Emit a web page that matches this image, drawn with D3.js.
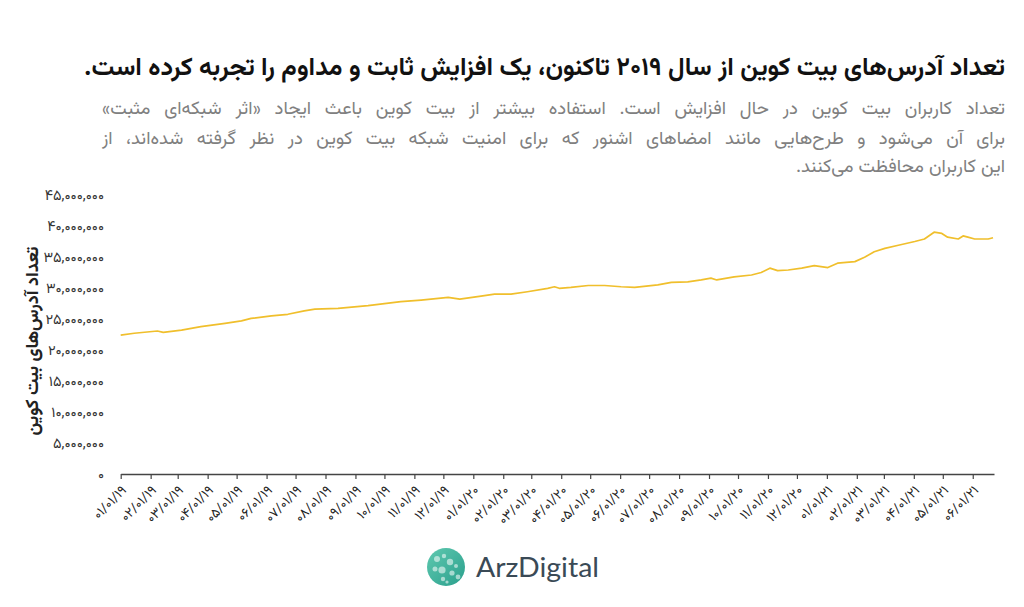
<!DOCTYPE html>
<html lang="fa">
<head>
<meta charset="UTF-8">
<title>Bitcoin addresses</title>
<script src="https://d3js.org/d3.v7.min.js"></script>
<style>
    body { margin: 0; background: #fff; }
    #wrap { position: relative; width: 1024px; height: 607px; overflow: hidden; }
    .fa { font-family: "Vazirmatn", "Noto Sans Arabic", "DejaVu Sans", sans-serif; }
    .title {
        position: absolute; right: 19px; top: 50px;
        white-space: nowrap; direction: rtl;
        font-weight: bold; color: #111; font-size: 24px;
    }
    .sub {
        position: absolute; right: 19px; width: 903px;
        white-space: nowrap; direction: rtl;
        color: #808080; font-size: 18px;
    }
    .just { text-align: justify; text-align-last: justify; }
    svg { position: absolute; left: 0; top: 0; }
</style>
</head>
<body>
<div id="wrap">
    <svg width="1024" height="607"></svg>
</div>
<script>
    const dates = [
        "2019-01-01", "2019-01-15", "2019-02-08", "2019-02-14", "2019-03-05", "2019-03-25",
        "2019-04-19", "2019-05-06", "2019-05-16", "2019-06-06", "2019-06-23", "2019-07-10",
        "2019-07-21", "2019-08-14", "2019-09-14", "2019-10-18", "2019-11-08", "2019-12-06",
        "2019-12-18", "2020-01-09", "2020-01-23", "2020-02-09", "2020-02-26", "2020-03-18",
        "2020-03-25", "2020-03-30", "2020-04-11", "2020-04-29", "2020-05-16", "2020-06-02",
        "2020-06-16", "2020-07-10", "2020-07-24", "2020-08-10", "2020-08-24", "2020-09-03",
        "2020-09-09", "2020-09-27", "2020-10-15", "2020-10-25", "2020-11-03", "2020-11-11",
        "2020-11-22", "2020-12-06", "2020-12-19", "2021-01-02", "2021-01-12", "2021-01-30",
        "2021-02-09", "2021-02-19", "2021-03-02", "2021-03-16", "2021-04-02", "2021-04-12",
        "2021-04-22", "2021-04-30", "2021-05-06", "2021-05-17", "2021-05-22", "2021-05-27",
        "2021-06-03", "2021-06-17", "2021-06-22"
    ];
    // millions of addresses
    const addresses = [
        22.4, 22.7, 23.06, 22.85, 23.2, 23.76,
        24.3, 24.7, 25.1, 25.5, 25.76, 26.3,
        26.6, 26.7, 27.15, 27.8, 28.06, 28.5,
        28.2, 28.7, 29.0, 29.0, 29.4, 29.95,
        30.2, 29.95, 30.1, 30.4, 30.4, 30.2,
        30.1, 30.5, 30.9, 31.0, 31.3, 31.6,
        31.3, 31.8, 32.1, 32.5, 33.2, 32.8,
        32.9, 33.2, 33.6, 33.3, 34.0, 34.25,
        34.95, 35.85, 36.4, 36.9, 37.5, 37.9,
        39.0, 38.8, 38.2, 37.9, 38.4, 38.2,
        37.9, 37.9, 38.1
    ];
    const yTicks = [0, 5e6, 10e6, 15e6, 20e6, 25e6, 30e6, 35e6, 40e6, 45e6];

    const titleText = "تعداد آدرس‌های بیت کوین از سال ۲۰۱۹ تاکنون، یک افزایش ثابت و مداوم را تجربه کرده است.";
    const subLines = [
        "تعداد کاربران بیت کوین در حال افزایش است. استفاده بیشتر از بیت کوین باعث ایجاد «اثر شبکه‌ای مثبت»",
        "برای آن می‌شود و طرح‌هایی مانند امضاهای اشنور که برای امنیت شبکه بیت کوین در نظر گرفته شده‌اند، از",
        "این کاربران محافظت می‌کنند."
    ];
    const yLabel = "تعداد آدرس‌های بیت کوین";

    const faDigits = s => String(s).replace(/\d/g, d => "۰۱۲۳۴۵۶۷۸۹"[+d]);
    const parse = d3.timeParse("%Y-%m-%d");
    const data = dates.map((d, i) => ({ date: parse(d), value: addresses[i] * 1e6 }));

    const wrap = d3.select("#wrap");

    // title, sized to span the same width as the original
    const title = wrap.append("div").attr("class", "title fa").text(titleText);
    let fs = 24;
    while (title.node().scrollWidth < 915 && fs < 30) {
        fs += 0.25;
        title.style("font-size", fs + "px");
    }
    title.style("top", (68 - fs * 0.75) + "px");

    const subTops = [95, 125, 153];
    let sfs = 18.5;
    subLines.forEach((t, i) => {
        wrap.append("div")
            .attr("class", "sub fa" + (i < 2 ? " just" : ""))
            .style("top", subTops[i] + "px")
            .text(t);
        if (i < 2) {
            const probe = wrap.append("span").attr("class", "fa")
                .style("position", "absolute").style("white-space", "nowrap")
                .style("font-size", sfs + "px").style("visibility", "hidden").text(t);
            while (probe.node().getBoundingClientRect().width > 880 && sfs > 10) {
                sfs -= 0.25;
                probe.style("font-size", sfs + "px");
            }
            probe.remove();
        }
    });
    wrap.selectAll(".sub").style("font-size", sfs + "px");

    const svg = d3.select("svg");
    const x = d3.scaleTime()
        .domain([parse("2019-01-01"), parse("2021-06-23")])
        .range([120.7, 994]);
    const y = d3.scaleLinear().domain([0, 45e6]).range([474, 195]);

    // y axis (labels only)
    const yAxis = svg.append("g")
        .attr("transform", "translate(104,0)")
        .call(d3.axisLeft(y).tickValues(yTicks).tickSize(0).tickPadding(0)
            .tickFormat(d => faDigits(d3.format(",")(d))));
    yAxis.select(".domain").remove();
    yAxis.selectAll("text")
        .attr("class", "fa")
        .style("font-size", "14.5px")
        .attr("fill", "#333");

    // x axis
    const xTicks = d3.timeMonth.range(parse("2019-01-01"), parse("2021-06-02"));
    const xAxis = svg.append("g")
        .attr("transform", "translate(0,474)")
        .call(d3.axisBottom(x).tickValues(xTicks).tickSize(5).tickSizeOuter(0)
            .tickFormat(d => faDigits(d3.timeFormat("%m/%d/%y")(d))));
    xAxis.select(".domain").attr("stroke", "#444").attr("stroke-width", 1.5);
    xAxis.selectAll(".tick line").attr("stroke", "#444").attr("stroke-width", 1.2);
    xAxis.selectAll("text")
        .attr("class", "fa")
        .style("font-size", "13.5px")
        .attr("fill", "#222")
        .style("text-anchor", "end")
        .attr("y", 0).attr("dy", 0)
        .attr("transform", "translate(6,17) rotate(-45)");

    // y axis title
    svg.append("text")
        .attr("class", "fa")
        .attr("transform", "translate(38,341) rotate(-90)")
        .attr("text-anchor", "middle")
        .attr("direction", "rtl")
        .style("font-size", "18px")
        .style("font-weight", "bold")
        .attr("fill", "#222")
        .text(yLabel);

    // line
    svg.append("path")
        .datum(data)
        .attr("fill", "none")
        .attr("stroke", "#f0bf2c")
        .attr("stroke-width", 1.7)
        .attr("stroke-linejoin", "round")
        .attr("d", d3.line().x(d => x(d.date)).y(d => y(d.value)));

    // logo
    const logo = svg.append("g").attr("transform", "translate(446,567)");
    const grad = svg.append("defs").append("linearGradient")
        .attr("id", "lg").attr("x1", 0).attr("y1", 0).attr("x2", 1).attr("y2", 1);
    grad.append("stop").attr("offset", 0).attr("stop-color", "#5fc9b0");
    grad.append("stop").attr("offset", 1).attr("stop-color", "#2a9f8c");
    logo.append("circle").attr("r", 19).attr("fill", "url(#lg)");
    const holes = [[-9, -8, 3], [-2, -11, 2.2], [4, -5, 3.2], [-11, 2, 2.5], [-4, 3, 3.6],
                   [6, 6, 2.6], [-3, 12, 2.2], [10, -1, 2], [12, 10, 2.4], [1, 15, 1.6]];
    logo.selectAll("circle.h").data(holes).enter().append("circle")
        .attr("class", "h")
        .attr("cx", d => d[0]).attr("cy", d => d[1]).attr("r", d => d[2])
        .attr("fill", "#fff").attr("opacity", 0.55);
    svg.append("text")
        .attr("x", 476).attr("y", 577)
        .attr("textLength", 123)
        .attr("lengthAdjust", "spacingAndGlyphs")
        .style("font-family", "Lato, 'Open Sans', sans-serif")
        .style("font-size", "26px")
        .attr("fill", "#3a4a56")
        .text("ArzDigital");
</script>
</body>
</html>
